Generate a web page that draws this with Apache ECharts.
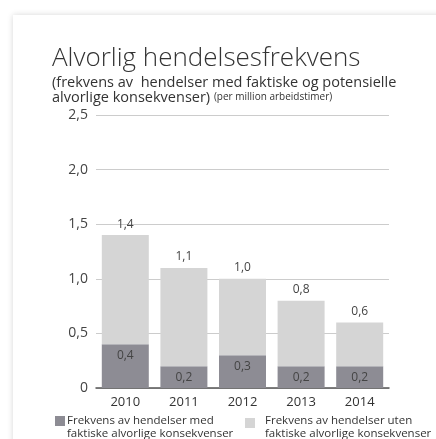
<!DOCTYPE html>
<html>
<head>
<meta charset="utf-8">
<script src="https://cdn.jsdelivr.net/npm/echarts@6/dist/echarts.min.js"></script>
<style>
html,body{margin:0;padding:0;background:#fff;overflow:hidden;}
#card{position:absolute;left:13px;top:15px;width:460px;height:460px;background:#fff;box-shadow:0 0 6px rgba(0,0,0,0.16);}
#c{position:absolute;left:0;top:0;width:436px;height:439px;}
</style>
</head>
<body>
<div id="card"></div>
<div id="c"></div>
<script>
const years = ['2010', '2011', '2012', '2013', '2014'];
const withConsequences = [0.4, 0.2, 0.3, 0.2, 0.2];
const withoutConsequences = [1.0, 0.9, 0.7, 0.6, 0.4];
const totals = [1.4, 1.1, 1.0, 0.8, 0.6];
const legendNames = ['Frekvens av hendelser med\nfaktiske alvorlige konsekvenser', 'Frekvens av hendelser uten\nfaktiske alvorlige konsekvenser'];
const titleText = 'Alvorlig hendelsesfrekvens';
const subtitleText = '(frekvens av  hendelser med faktiske og potensielle\nalvorlige konsekvenser) {s|(per million arbeidstimer)}';

const fmt = v => v === 0 ? '0' : v.toFixed(1).replace('.', ',');
const FONT = 'Open Sans';
const DARK = '#8d8c94';
const LIGHT = '#d5d5d5';
const TXT = '#333333';

const chart = echarts.init(document.getElementById('c'));
chart.setOption({
  animation: false,
  title: {
    text: titleText,
    subtext: subtitleText,
    left: 47,
    top: 41,
    itemGap: 3,
    textStyle: {fontFamily: FONT, fontWeight: 300, fontSize: 26, color: TXT},
    subtextStyle: {fontFamily: FONT, fontSize: 14.5, color: TXT, lineHeight: 15,
      rich: {s: {fontFamily: FONT, fontSize: 10, color: TXT}}}
  },
  grid: {left: 96, right: 47, top: 115, bottom: 51},
  xAxis: {type: 'category', data: years,
    axisLine: {show: true, lineStyle: {color: '#555', width: 1.5}},
    axisTick: {show: false},
    axisLabel: {margin: 8, fontFamily: FONT, fontSize: 13, color: TXT}},
  yAxis: {type: 'value', min: 0, max: 2.5, interval: 0.5,
    axisLine: {show: false}, axisTick: {show: false},
    axisLabel: {formatter: fmt, margin: 8, fontFamily: FONT, fontSize: 14, color: '#444'},
    splitLine: {lineStyle: {color: '#cccccc', width: 1}}},
  series: [
    {type: 'bar', stack: 'a', barWidth: 47, data: withConsequences, itemStyle: {color: DARK, opacity: 1},
     label: {show: true, position: 'insideTop', distance: 5, formatter: p => fmt(p.value),
       fontFamily: FONT, fontSize: 12, color: '#444', textBorderWidth: 0}},
    {type: 'bar', stack: 'a', barWidth: 47, data: withoutConsequences, itemStyle: {color: LIGHT, opacity: 1},
     label: {show: true, position: 'top', distance: 5, formatter: p => fmt(totals[p.dataIndex]),
       fontFamily: FONT, fontSize: 12, color: '#444', textBorderWidth: 0}}
  ],
  graphic: [
    {type: 'rect', shape: {x: 55, y: 416, width: 10, height: 10}, style: {fill: DARK}},
    {type: 'text', x: 67, y: 414, style: {text: legendNames[0], fontFamily: FONT, fontSize: 11.5, fill: TXT, lineHeight: 13}},
    {type: 'rect', shape: {x: 245, y: 418, width: 10, height: 10}, style: {fill: LIGHT}},
    {type: 'text', x: 265, y: 414, style: {text: legendNames[1], fontFamily: FONT, fontSize: 11.5, fill: TXT, lineHeight: 13}}
  ]
});
</script>
</body>
</html>
